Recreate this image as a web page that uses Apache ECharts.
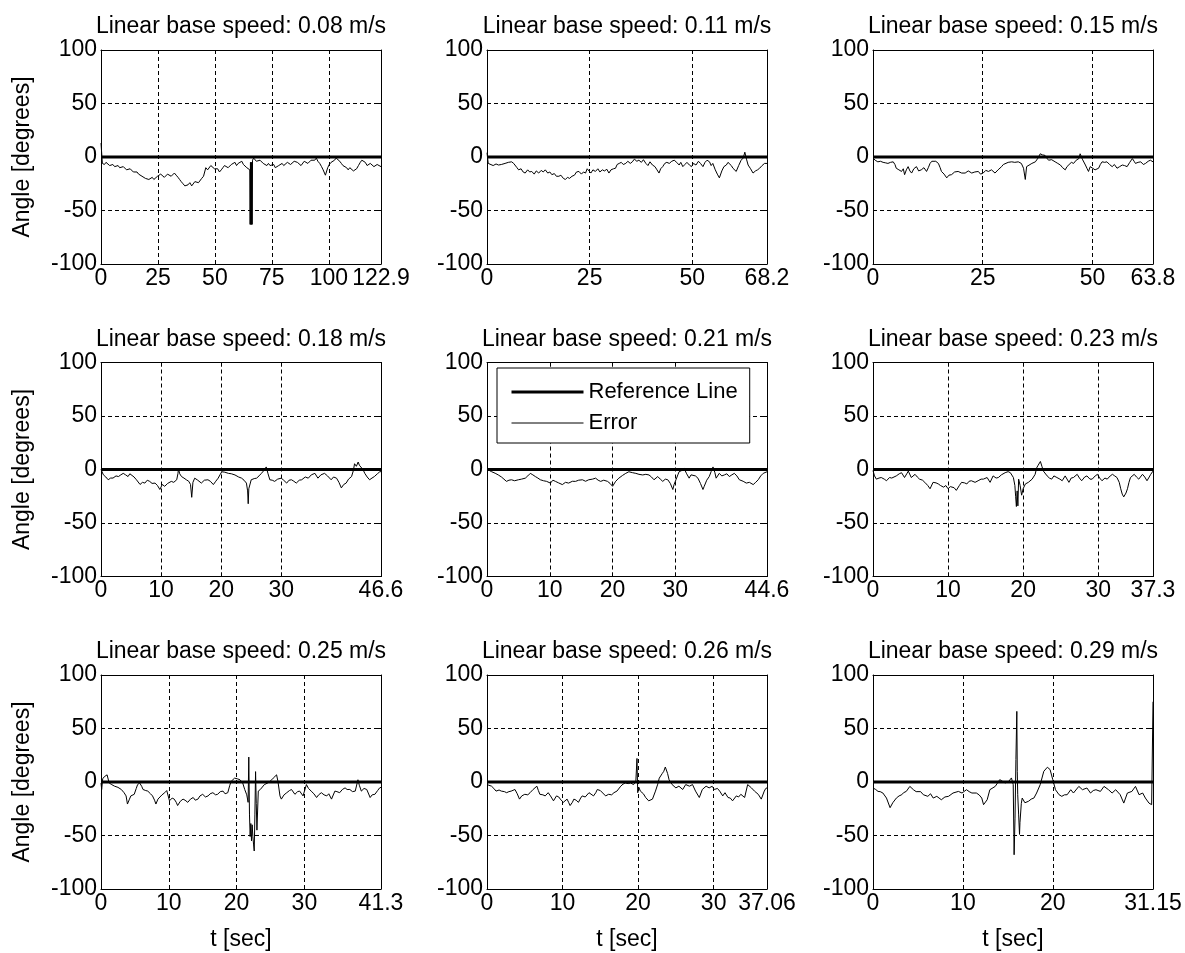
<!DOCTYPE html>
<html><head><meta charset="utf-8">
<script src="https://cdn.jsdelivr.net/npm/echarts@6/dist/echarts.min.js"></script>
<style>html,body{margin:0;padding:0;background:#fff}#c{width:1185px;height:953px}</style>
</head><body><div id="c"></div>
<script>
const titles = ['Linear base speed: 0.08 m/s','Linear base speed: 0.11 m/s','Linear base speed: 0.15 m/s',
  'Linear base speed: 0.18 m/s','Linear base speed: 0.21 m/s','Linear base speed: 0.23 m/s',
  'Linear base speed: 0.25 m/s','Linear base speed: 0.26 m/s','Linear base speed: 0.29 m/s'];
const durations = [122.9, 68.2, 63.8, 46.6, 44.6, 37.3, 41.3, 37.06, 31.15];
const xTickValues = [[0,25,50,75,100,122.9],[0,25,50,68.2],[0,25,50,63.8],
  [0,10,20,30,46.6],[0,10,20,30,44.6],[0,10,20,30,37.3],
  [0,10,20,30,41.3],[0,10,20,30,37.06],[0,10,20,31.15]];
const yTickValues = [-100,-50,0,50,100];
const refLevel = 0;
const legendNames = ['Reference Line','Error'];
const yAxisLabel = 'Angle [degrees]';
const xAxisLabel = 't [sec]';

const err1 = [[0,13],[0.3,12],[0.6,-6],[1.5,-7],[2.2,-5],[3,-6],[3.8,-8],[4.5,-8],[5.2,-7],[6,-9],[6.8,-10],[7.5,-8],[8.2,-10],[9,-11],[9.8,-9],[10.5,-10],[11.2,-12],[12,-13],[12.8,-11],[13.5,-12],[14.2,-14],[15,-15],[15.8,-14],[16.5,-16],[17.2,-17],[18,-18],[18.8,-17],[19.5,-20],[20.2,-19],[21,-21],[21.8,-20],[22.5,-19],[23.2,-21],[24,-20],[24.8,-18],[25.5,-18],[26.2,-16],[27,-17],[27.8,-19],[28.5,-18],[29.2,-16],[30,-16],[30.8,-18],[31.5,-17],[32.2,-15],[33,-17],[33.8,-19],[34.5,-21],[35.2,-23],[36,-25],[36.8,-27],[37.5,-28],[38.2,-26],[39,-24],[39.8,-27],[40.5,-26],[41.2,-23],[42,-22],[42.8,-24],[43.5,-23],[44.2,-20],[45,-18],[46,-10],[46.8,-12],[47.5,-11],[48.2,-8],[49,-9],[49.8,-11],[50.5,-12],[51.2,-11],[52,-14],[52.8,-12],[53.5,-10],[54.2,-8],[55,-7],[55.8,-10],[56.5,-9],[57.2,-7],[58,-6],[58.8,-5],[59.5,-8],[60.2,-6],[61,-5],[61.8,-4],[62.5,-7],[63.2,-8],[64,-10],[64.7,-11],[65.3,-12],[65.45,-63],[65.6,-5],[65.75,-63],[65.9,-5],[66.05,-63],[66.2,-5],[66.35,-63],[66.5,-3],[67,-1],[67.5,-2],[68.2,-4],[69,-5],[69.8,-3],[70.5,-4],[71.2,-6],[72,-7],[72.8,-8],[73.5,-6],[74.2,-8],[75,-9],[75.8,-7],[76.5,-10],[77.2,-9],[78,-8],[78.8,-7],[79.5,-6],[80.2,-8],[81,-7],[81.8,-5],[82.5,-4],[83.2,-7],[84,-6],[84.8,-4],[85.5,-3],[86.2,-5],[87,-5],[87.8,-8],[88.5,-7],[89.2,-4],[90,-3],[90.8,-6],[91.5,-5],[92.2,-3],[93,-2],[93.8,-3],[94.5,-1],[95.2,-4],[96,-6],[96.8,-9],[97.5,-12],[98.5,-17],[99.5,-10],[100.2,-7],[101,-5],[101.8,-4],[102.5,-3],[103.2,-1],[104,-2],[104.8,-4],[105.5,-6],[106.2,-8],[107,-9],[107.8,-10],[108.5,-12],[109.2,-10],[110,-11],[110.8,-13],[111.5,-14],[112.2,-11],[113,-8],[113.8,-5],[114.5,-3],[115.2,-4],[116,-5],[116.8,-8],[117.5,-9],[118.2,-6],[119,-7],[119.8,-9],[120.5,-10],[121.2,-7],[122,-8],[122.9,-9]];
const err2 = [[0,4],[0.3,-6],[0.7,-7.5],[1.5,-8],[2.2,-6.5],[2.8,-7.5],[3.5,-7],[4.4,-6],[5.2,-5],[6,-4.5],[6.5,-6],[6.9,-7.5],[7.3,-10],[7.7,-12],[8.3,-11],[8.8,-14],[9.3,-15],[9.9,-12],[10.4,-14],[10.9,-13.5],[11.5,-16],[12,-13],[12.6,-15],[13.2,-12.5],[13.7,-14],[14.2,-12],[14.8,-15],[15.3,-14],[15.8,-16.5],[16.4,-15.5],[16.9,-18],[17.5,-18],[18,-17],[18.6,-20],[19.1,-21],[19.6,-19],[20.1,-20],[20.7,-18],[21.3,-17],[21.8,-14],[22.4,-13.5],[23,-16],[23.5,-14],[24,-15],[24.4,-11],[24.8,-12],[25.3,-15],[25.8,-12],[26.4,-13.5],[27,-11],[27.5,-14],[28.1,-12],[28.6,-13],[29.2,-11.5],[29.7,-15],[30.2,-12],[30.8,-11],[31.3,-10.5],[31.7,-7],[32.2,-6],[32.7,-5],[33.2,-7],[33.8,-6],[34.3,-4],[34.9,-6],[35.4,-4.5],[35.9,-2],[36.5,-4],[37,-3],[37.6,-5],[38.1,-2.5],[38.7,-6],[39.2,-8],[39.7,-4.5],[40.3,-7.5],[40.9,-9],[41.4,-12],[41.9,-15],[42.3,-11],[42.8,-9],[43.3,-6],[43.8,-5],[44.4,-6],[45,-4],[45.6,-3],[46.2,-5],[46.8,-7.5],[47.2,-5],[47.7,-9],[48.2,-7],[48.7,-5],[49.3,-7.5],[49.8,-9],[50.3,-6],[50.9,-7.5],[51.5,-4],[52,-6],[52.6,-9],[53.1,-5],[53.6,-3],[54.2,-4.5],[54.6,-8],[55,-6],[55.6,-12],[56.1,-16],[56.6,-19.5],[57.2,-13],[57.7,-9],[58.3,-7.5],[58.7,-5],[59.1,-4.5],[59.5,-8],[59.9,-10.5],[60.3,-12],[60.7,-13.5],[61.3,-8],[61.9,-3],[62.4,-1],[62.8,4.5],[63.2,-2],[63.6,-7.5],[64.2,-11],[64.8,-15],[65.4,-13],[65.9,-12],[66.4,-10.5],[67,-8],[67.6,-6],[68.2,-6]];
const err3 = [[0,-1],[0.5,-3],[1.1,-4.5],[1.7,-4],[2.3,-5],[2.9,-5.5],[3.4,-6],[4,-5],[4.6,-4.5],[5,-7],[5.3,-10.5],[5.9,-12],[6.5,-13.5],[6.9,-11],[7.2,-16.5],[7.6,-12],[8,-9],[8.4,-13],[8.8,-15],[9.3,-11],[9.9,-9],[10.4,-13],[11,-12],[11.6,-10],[12.2,-13.5],[12.6,-10],[13,-6],[13.4,-4],[13.7,-3],[14.3,-4],[14.9,-6],[15.3,-10],[15.6,-13.5],[16.2,-16],[16.8,-19.5],[17.3,-17],[17.9,-16.5],[18.6,-14],[19.4,-13.5],[20.2,-15],[21,-15],[21.7,-13],[22.5,-15],[23.2,-14],[24,-13.5],[24.5,-16],[25.1,-15],[25.7,-12.5],[26.3,-13.5],[27,-12],[27.8,-15],[28.5,-12],[29.3,-9],[29.7,-7],[30.1,-6],[30.8,-5],[31.6,-4.5],[32.3,-5],[33.1,-4.5],[33.8,-6],[34.3,-10.5],[34.7,-21],[35,-9],[35.4,-7.5],[36.2,-6],[37,-4.5],[37.6,-1],[38.1,3],[38.6,2],[39.2,1.5],[39.6,-1],[40,-3],[40.7,-2.5],[41.5,-4.5],[42.1,-6],[42.7,-7.5],[43.2,-10],[43.8,-12],[44.2,-9],[44.6,-7.5],[45.2,-5],[45.7,-6],[46.3,-3],[46.9,-1.5],[47.2,3],[47.7,-2],[48.4,-7.5],[48.8,-11],[49.1,-13.5],[49.5,-9],[49.9,-10.5],[50.6,-12],[51.4,-10.5],[51.8,-7],[52.2,-4.5],[52.8,-5],[53.3,-4.5],[53.9,-7],[54.5,-9],[55,-7],[55.6,-10.5],[56.2,-9],[56.8,-7.5],[57.3,-8],[57.9,-9],[58.5,-5],[59.1,-1.5],[59.5,-4],[59.8,-6],[60.4,-5],[61,-4.5],[61.6,-7],[62.1,-6],[62.7,-4],[63.2,-3],[63.8,-4.5]];
const err4 = [[0,0],[0.4,-5],[0.8,-7],[1.2,-9.6],[1.6,-8],[2,-8],[2.5,-6],[2.9,-6.6],[3.3,-5],[3.7,-3.6],[4.1,-5],[4.5,-6.6],[4.8,-4],[5.1,-3.6],[5.5,-7],[5.9,-9.6],[6.2,-11],[6.5,-14],[6.9,-12],[7.3,-12.7],[7.7,-10],[8.1,-11.1],[8.5,-13],[9,-12.7],[9.4,-15],[9.8,-18.7],[10.2,-14],[10.6,-15.7],[11.1,-13],[11.7,-11.1],[12.1,-12],[12.6,-9.6],[12.8,-4],[12.9,0.5],[13.1,-4],[13.4,-6.6],[13.8,-8],[14.2,-9.6],[14.6,-11],[14.9,-14],[15.1,-26],[15.3,-12],[15.6,-8.1],[16.1,-10],[16.7,-12.7],[17.2,-10],[17.8,-9.6],[18.2,-11],[18.7,-14.1],[19.1,-11],[19.5,-8.1],[19.8,-5],[20.1,-2.1],[20.6,-2.5],[21.2,-3.6],[21.7,-4],[22.3,-5.1],[22.9,-7],[23.4,-8.1],[23.8,-10],[24.2,-12.7],[24.4,-20],[24.5,-32],[24.6,-18],[25,-9.6],[25.5,-8.5],[25.9,-8.1],[26.3,-6],[26.7,-3.6],[27.1,-1],[27.5,2.4],[27.8,-4],[28.1,-9.6],[28.5,-10],[28.9,-11.1],[29.4,-9],[30,-8.1],[30.4,-10],[30.9,-12.7],[31.3,-10],[31.7,-9.6],[32.1,-11],[32.5,-12.7],[33,-10],[33.4,-9.6],[34,-7],[34.5,-8.1],[35,-5],[35.6,-3.6],[36.1,-8.1],[36.6,-5],[37.2,-3.6],[37.7,-6],[38.3,-9.6],[38.7,-7],[39.2,-8.1],[39.6,-12],[40,-17.2],[40.4,-14],[40.8,-12.7],[41.2,-9],[41.7,-6.6],[42,-1],[42.2,5.4],[42.5,3],[42.8,7],[43,4],[43.3,3.9],[43.6,0],[43.9,-3.6],[44.3,-7],[44.7,-9.6],[45.1,-8],[45.5,-6.6],[46,-4],[46.4,-2.1],[46.6,-2]];
const err5 = [[0,1],[0.4,-1],[0.75,-2.1],[1.3,-3.5],[1.8,-5.1],[2.3,-7],[2.7,-9],[3.1,-11.1],[3.5,-10],[3.9,-9.6],[4.4,-10.5],[5,-9.6],[5.5,-9],[6.1,-8.1],[6.5,-6],[6.9,-3.6],[7.3,-5],[7.7,-6.6],[8.1,-8],[8.5,-9.6],[9,-10.5],[9.5,-11.1],[10.1,-12.7],[10.5,-10],[10.9,-11.1],[11.4,-12.5],[12,-14.1],[12.5,-12],[13,-12.7],[13.6,-11],[14.1,-11.1],[14.6,-10],[15.2,-9.6],[15.7,-11],[16.2,-9.6],[16.8,-9],[17.3,-8.1],[17.7,-10],[18.1,-11.1],[18.6,-10],[19.2,-11.1],[19.6,-13],[20,-15.7],[20.5,-11],[21,-8.1],[21.6,-5.5],[22.1,-3.6],[22.6,-2.1],[23.2,-3],[23.7,-3.6],[24.2,-4.5],[24.8,-5.1],[25.3,-4.5],[25.8,-5.1],[26.2,-7],[26.6,-9.6],[27.2,-6.6],[27.6,-9],[28,-11.1],[28.4,-9],[28.8,-9.6],[29.2,-13],[29.6,-18.7],[29.8,-14],[30.1,-9.6],[30.4,-5],[30.6,-2.1],[31,-1],[31.4,0.9],[31.8,-4],[32.2,-8.1],[32.5,-5],[32.8,-3.6],[33.2,-6],[33.6,-8.1],[34,-13],[34.4,-18.7],[34.6,-15.7],[35,-10],[35.4,-6.6],[35.7,-2],[36,2.4],[36.3,-3],[36.5,-8.1],[37,-3.6],[37.4,-6],[37.8,-5.1],[38.2,-4],[38.6,-6.6],[39,-5],[39.4,-3.6],[39.8,-6],[40.2,-9.6],[40.8,-11],[41.3,-12.7],[41.8,-12],[42.4,-14.1],[42.8,-12],[43.2,-9.6],[43.6,-6],[44,-3.6],[44.6,-2.1]];
const err6 = [[0,-1],[0.2,-6],[0.45,-9],[0.8,-8],[1.1,-7.5],[1.5,-9],[1.8,-10.5],[2.2,-7.5],[2.5,-8],[2.7,-9],[3.1,-6],[3.5,-4],[3.8,-3],[4.2,-7.5],[4.5,-4],[4.7,-1.5],[5.1,-7.5],[5.3,-6],[5.6,-4.5],[5.9,-7],[6.2,-9],[6.6,-10],[6.9,-12],[7.3,-15],[7.6,-18],[8,-12],[8.4,-12.5],[8.7,-13.5],[9,-15],[9.4,-16.5],[9.7,-15],[10,-18],[10.3,-16],[10.5,-15],[10.8,-17],[11.1,-19.5],[11.5,-15],[11.8,-12],[12.2,-12.5],[12.5,-13.5],[12.8,-11],[13.1,-10.5],[13.6,-12],[14,-10.5],[14.4,-9],[14.7,-9],[15.2,-7.5],[15.6,-12],[16,-6],[16.4,-8],[16.7,-7.5],[17.1,-5],[17.6,-3],[18,-2],[18.3,-3],[18.7,-7.5],[18.9,-15],[19,-25],[19.1,-34.6],[19.2,-20],[19.3,-34],[19.4,-9],[19.6,-15],[19.8,-24],[20,-18],[20.3,-13.5],[20.7,-12],[21.2,-9],[21.6,-4.5],[21.8,1.5],[22,4],[22.3,7.5],[22.5,3],[22.7,-1.5],[23.2,-6],[23.5,-8],[23.8,-9],[24.1,-6],[24.5,-7.5],[24.9,-9],[25.2,-10.5],[25.6,-6],[26.1,-12],[26.4,-8],[26.7,-7.5],[27.2,-4.5],[27.5,-8],[27.8,-10.5],[28.2,-7],[28.5,-6],[28.9,-9],[29.2,-9],[29.6,-6],[29.9,-4.5],[30.2,-8],[30.5,-10.5],[30.9,-8],[31.2,-9],[31.6,-6],[31.9,-4.5],[32.2,-6],[32.5,-7.5],[32.8,-12],[33,-18],[33.2,-23],[33.4,-25.6],[33.7,-22],[33.9,-18],[34.1,-12],[34.3,-7.5],[34.8,-4.5],[35.1,-7],[35.4,-9],[35.9,-4.5],[36.2,-7],[36.5,-10.5],[36.8,-7],[37,-4.5],[37.3,-1.5]];
const err7 = [[0,-1],[0.1,-7],[0.25,3],[0.5,5],[0.9,6.7],[1.2,-0.9],[1.6,-2.5],[2,-3.9],[2.5,-5],[3,-7],[3.4,-10],[3.7,-13],[3.9,-20.6],[4.2,-16],[4.4,-13],[4.9,-11.5],[5.2,-6],[5.4,-2.4],[5.7,-0.9],[6,-4],[6.2,-7],[6.6,-8],[6.9,-8.5],[7.3,-11],[7.6,-13],[7.9,-17],[8.1,-20.6],[8.4,-16],[8.6,-14.5],[9,-12],[9.4,-10],[9.7,-8],[9.9,-7],[10.1,-17.6],[10.5,-15],[10.8,-16],[11.1,-19],[11.3,-22],[11.7,-18],[12.1,-16],[12.4,-17],[12.8,-19],[13.2,-16],[13.6,-14.5],[13.9,-17],[14.3,-16],[14.6,-13],[15,-11.5],[15.4,-14],[15.8,-13],[16.1,-11],[16.5,-10],[16.9,-12],[17.2,-11.5],[17.6,-9],[18,-8.5],[18.3,-11],[18.7,-10],[19,-3],[19.2,0.6],[19.7,3.6],[20.1,3],[20.5,2.1],[20.9,-0.9],[21.2,-7],[21.5,-12],[21.7,-19],[21.8,23.3],[21.9,-30],[22,-51],[22.1,-38.8],[22.2,-55],[22.3,-40],[22.4,-51],[22.5,-58],[22.6,-64.5],[22.7,-30],[22.8,9.7],[22.9,-20],[23,-45],[23.2,-8.5],[23.5,-7],[23.7,-5.5],[24.1,-2.4],[24.6,-0.9],[25,1],[25.4,3.6],[25.9,6.7],[26.1,0.6],[26.4,-13],[26.6,-16],[27,-12],[27.4,-10],[27.8,-8],[28.1,-7],[28.6,-11.5],[29,-9],[29.3,-8.5],[29.8,-13],[30.3,-2.4],[30.6,-6],[31,-8.5],[31.4,-11],[31.8,-14.5],[32.1,-12],[32.5,-10],[32.9,-12],[33.3,-13],[33.6,-11],[34,-16],[34.5,-8.5],[34.8,-9],[35.2,-10],[35.6,-7],[36,-5.5],[36.3,-7],[36.7,-7],[37.1,-9],[37.5,-8.5],[37.9,2.1],[38.1,-3],[38.4,-8.5],[38.8,-6],[39.2,-7],[39.7,-14.5],[40,-12],[40.4,-11.5],[40.8,-8],[41.1,-5.5],[41.3,-5]];
const err8 = [[0,-2.4],[0.6,-3.9],[0.9,-6],[1.2,-8.5],[1.6,-7.5],[1.9,-8.5],[2.3,-9],[2.6,-10],[2.9,-9],[3.2,-8.5],[3.7,-7],[4,-11],[4.3,-16],[4.6,-13],[5,-11.5],[5.4,-12],[5.7,-10],[6.1,-7],[6.6,-3.9],[6.8,-8],[7,-11.5],[7.4,-12],[7.7,-13],[8.1,-10],[8.4,-13],[8.8,-17.6],[9.2,-13],[9.5,-14],[9.7,-16],[10.1,-19],[10.6,-16],[10.8,-19],[11,-22],[11.3,-19],[11.5,-16],[11.8,-17],[12.1,-19],[12.4,-15],[12.6,-13],[13,-14],[13.2,-13],[13.5,-10],[13.7,-8.5],[14.1,-13],[14.4,-10],[14.6,-7],[15,-8],[15.2,-8.5],[15.7,-13],[16.1,-11.5],[16.5,-12],[16.8,-10],[17.2,-8.5],[17.7,-3.9],[18,-2],[18.3,-0.9],[18.7,-1.5],[19,-0.9],[19.4,-2.4],[19.7,0.6],[19.85,22],[19.95,-10],[20.1,-5],[20.3,-8.5],[20.7,-11],[21,-14.5],[21.4,-17.6],[21.9,-16],[22.3,-8.5],[22.6,-2],[22.8,3.6],[23.2,8],[23.4,10],[23.6,14],[23.9,8],[24.1,2.1],[24.5,-2.4],[25,-5.5],[25.4,-3.9],[25.9,-7],[26.3,-2.4],[26.8,-3.9],[27.2,-2.4],[27.6,-8.5],[28.1,-14.5],[28.5,-7],[29,-3.9],[29.4,-5.5],[29.8,-4],[30.1,-7],[30.5,-6],[30.8,-8.5],[31.2,-13],[31.5,-10],[31.9,-14.5],[32.2,-15],[32.5,-17.6],[33,-13],[33.3,-14],[33.6,-11.5],[34.1,-14.5],[34.5,-2.4],[35,-5.5],[35.4,-8.5],[35.9,-11.5],[36.3,-16],[36.7,-8.5],[36.9,-6],[37.06,-5.5]];
const err9 = [[0,-5.6],[0.3,-7],[0.56,-8.8],[0.8,-9],[1.1,-10.3],[1.5,-15],[1.9,-24],[2.2,-19.4],[2.6,-15],[2.9,-13],[3.2,-11.9],[3.4,-10],[3.7,-8.8],[4.1,-4.1],[4.5,-7.2],[4.8,-9],[5,-10.3],[5.3,-9],[5.6,-11.9],[6.1,-13.4],[6.4,-11],[6.7,-15],[7.1,-13.4],[7.6,-16.6],[8,-14],[8.4,-13.4],[8.9,-10.3],[9.5,-8.8],[9.9,-10.3],[10.4,-7.2],[10.7,-9],[11,-10.3],[11.5,-10.3],[11.8,-12],[12.1,-15],[12.3,-21.2],[12.7,-16.6],[13,-7.2],[13.6,-4.1],[14.1,2.2],[14.7,-0.9],[15.1,0.6],[15.4,3.8],[15.6,-2.5],[15.7,-68],[15.8,-33.8],[15.9,21],[16,66],[16.05,10],[16.1,-11.9],[16.2,-30],[16.3,-49],[16.35,-38],[16.4,-38],[16.5,-20],[16.6,-15],[16.9,-19.4],[17.3,-18],[17.6,-16],[17.9,-15],[18.2,-10.3],[18.6,-2.5],[19,10],[19.4,13.8],[19.7,11.6],[20,2.2],[20.3,-7.2],[20.7,-11.9],[21,-13.4],[21.3,-12],[21.6,-11.9],[22,-7.2],[22.3,-10.3],[22.9,-4.1],[23.3,-7.2],[23.8,-5.6],[24.2,-10.3],[24.5,-8],[24.8,-7.2],[25.3,-8.8],[25.7,-4.1],[26.2,-7.2],[26.6,-10.3],[27,-7.2],[27.5,-11.9],[27.9,-19.7],[28.3,-10.3],[28.8,-8.8],[29.2,-4.1],[29.6,-11.9],[30,-10.3],[30.3,-15],[30.7,-19.7],[31,-21.2],[31.15,-20],[31.15,75]];
const errs = [err1, err2, err3, err4, err5, err6, err7, err8, err9];

const FONT = '"Liberation Sans", Arial, Helvetica, sans-serif';
const FS = 23;
const lefts = [101, 487, 873];
const tops = [50, 362.5, 675];
const W = 280, H = 214;
const dash = [4, 3];

const grid = [], xAxis = [], yAxis = [], series = [], graphic = [];
for (let i = 0; i < 9; i++) {
  const r = Math.floor(i / 3), c = i % 3;
  const T = durations[i];
  const ticks = xTickValues[i];
  grid.push({ left: lefts[c], top: tops[r], width: W, height: H, show: false });
  graphic.push({ type: 'text', x: lefts[c] + W / 2, y: tops[r] - 23, silent: true,
    style: { text: titles[i], fill: '#000', font: FS + 'px ' + FONT, align: 'center', verticalAlign: 'middle' } });
  const lineStyle = { color: '#000', width: 1 };
  xAxis.push({
    gridIndex: i, type: 'value', min: 0, max: T, position: 'bottom',
    axisLine: { show: true, onZero: false, lineStyle },
    axisTick: { show: true, inside: true, length: 4, customValues: ticks, lineStyle },
    axisLabel: { show: true, customValues: ticks, margin: 3, color: '#000', fontFamily: FONT, fontSize: FS, formatter: v => String(v) },
    splitLine: { show: false },
    name: r === 2 ? xAxisLabel : '', nameLocation: 'middle', nameGap: 39,
    nameTextStyle: { color: '#000', fontFamily: FONT, fontSize: FS }
  });
  xAxis.push({
    gridIndex: i, type: 'value', min: 0, max: T, position: 'top',
    axisLine: { show: true, onZero: false, lineStyle },
    axisTick: { show: true, inside: true, length: 4, customValues: ticks, lineStyle },
    axisLabel: { show: false }, splitLine: { show: false }
  });
  yAxis.push({
    gridIndex: i, type: 'value', min: yTickValues[0], max: yTickValues[yTickValues.length - 1], interval: 50, position: 'left',
    axisLine: { show: true, onZero: false, lineStyle },
    axisTick: { show: true, inside: true, length: 4, lineStyle },
    axisLabel: { show: true, margin: 4, color: '#000', fontFamily: FONT, fontSize: FS },
    splitLine: { show: true, lineStyle: { color: '#000', width: 1, type: dash } },
    name: c === 0 ? yAxisLabel : '', nameLocation: 'middle', nameGap: 67, nameRotate: 90,
    nameTextStyle: { color: '#000', fontFamily: FONT, fontSize: FS }
  });
  yAxis.push({
    gridIndex: i, type: 'value', min: yTickValues[0], max: yTickValues[yTickValues.length - 1], interval: 50, position: 'right',
    axisLine: { show: true, onZero: false, lineStyle },
    axisTick: { show: true, inside: true, length: 4, lineStyle },
    axisLabel: { show: false }, splitLine: { show: false }
  });
  const inner = ticks.filter(t => t > 0 && t < T);
  series.push({
    type: 'line', name: legendNames[0], xAxisIndex: 2 * i, yAxisIndex: 2 * i,
    data: [[0, refLevel], [T, refLevel]], symbol: 'none', z: 3,
    lineStyle: { color: '#000', width: 3 }, itemStyle: { color: '#000' },
    markLine: { silent: true, symbol: ['none', 'none'], label: { show: false },
      lineStyle: { color: '#000', width: 1, type: dash }, emphasis: { disabled: true },
      data: inner.map(t => ({ xAxis: t })) }
  });
  series.push({
    type: 'line', name: legendNames[1], xAxisIndex: 2 * i, yAxisIndex: 2 * i,
    data: errs[i], symbol: 'none', z: 4,
    lineStyle: { color: '#000', width: 1 }, itemStyle: { color: '#000' }
  });
}

const chart = echarts.init(document.getElementById('c'), null, { renderer: 'canvas' });
chart.setOption({
  animation: false,
  backgroundColor: '#fff',
  grid, xAxis, yAxis, series, graphic,
  legend: {
    left: 497, top: 368, orient: 'vertical',
    data: [{ name: legendNames[0], lineStyle: { width: 3, color: '#000' } },
           { name: legendNames[1], lineStyle: { width: 1, color: '#000' } }],
    itemWidth: 72, itemHeight: 22, itemGap: 9,
    itemStyle: { color: 'rgba(0,0,0,0)', opacity: 0, borderWidth: 0 },
    padding: [13, 12, 9, 13],
    backgroundColor: '#fff', borderColor: '#000', borderWidth: 1, borderRadius: 0,
    textStyle: { fontFamily: FONT, fontSize: 22, color: '#000' },
    selectedMode: false, z: 10
  }
});
</script></body></html>
